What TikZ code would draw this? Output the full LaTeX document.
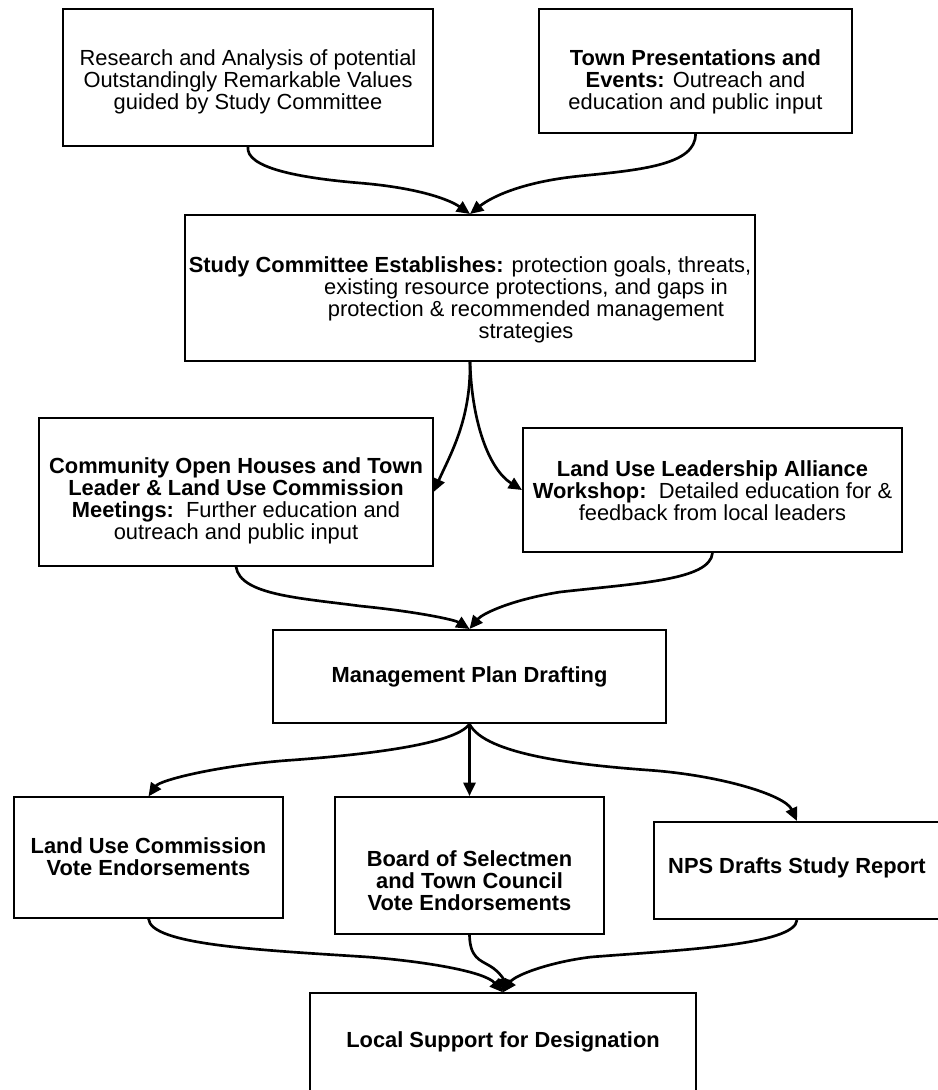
\documentclass[tikz,border=0pt]{standalone}
\usepackage{fontspec}
\setmainfont{Liberation Sans}
\usetikzlibrary{arrows.meta}

\tikzset{
    box/.style={draw, line width=0.9pt, inner sep=0pt},
    heavybox/.style={box, line width=1.5pt},
    txt/.style={align=center, inner sep=0pt, font=\fontsize{16.4}{16.6}\selectfont},
    flow/.style={line width=2pt, -{Triangle[length=10pt,width=9pt]}},
}

\begin{document}
\begin{tikzpicture}[x=0.75pt, y=-0.75pt]
    \useasboundingbox (0,0) rectangle (938,1090);

    % Research and town input
    \node[box, minimum width=277.5pt, minimum height=102.75pt] (rsch) at (248,77.5) {};
    \node[txt] (rsch-t) at (248,82) {Research and Analysis of potential\\Outstandingly Remarkable Values\\guided by Study Committee};
    \node[heavybox, minimum width=234.75pt, minimum height=93pt] (town) at (695.5,71) {};
    \node[txt] (town-t) at (695.5,82) {\textbf{Town Presentations and}\\\textbf{Events:} Outreach and\\education and public input};

    % Study committee
    \node[heavybox, minimum width=427.5pt, minimum height=109.5pt] (estb) at (470,288) {};
    \node[txt] (estb-t) at (470,300) {\textbf{Study Committee Establishes:} protection goals, threats,\\\hspace*{84pt}existing resource protections, and gaps in\\\hspace*{84pt}protection \& recommended management\\\hspace*{84pt}strategies};

    % Open houses and workshop
    \node[box, minimum width=295.5pt, minimum height=111pt] (comm) at (236,492) {};
    \node[txt] (comm-t) at (236,501) {\textbf{Community Open Houses and Town}\\\textbf{Leader \& Land Use Commission}\\\textbf{Meetings:}\ \ Further education and\\outreach and public input};
    \node[heavybox, minimum width=284.25pt, minimum height=93pt] (lula) at (712.5,490) {};
    \node[txt] (lula-t) at (712.5,491) {\textbf{Land Use Leadership Alliance}\\\textbf{Workshop:}\ \ Detailed education for \&\\feedback from local leaders};

    % Drafting
    \node[heavybox, minimum width=294.75pt, minimum height=69.75pt] (mgmt) at (469.5,676.5) {};
    \node[txt] (mgmt-t) at (469.5,677) {\textbf{Management Plan Drafting}};

    % Endorsements and report
    \node[box, minimum width=201.75pt, minimum height=90.75pt] (luc) at (148.5,857.5) {};
    \node[txt] (luc-t) at (148.5,856.5) {\textbf{Land Use Commission}\\\textbf{Vote Endorsements}};
    \node[heavybox, minimum width=201.75pt, minimum height=102.75pt] (bos) at (469.5,865.5) {};
    \node[txt] (bos-t) at (469.5,881) {\textbf{Board of Selectmen}\\\textbf{and Town Council}\\\textbf{Vote Endorsements}};
    \node[heavybox, minimum width=214.5pt, minimum height=72.75pt] (nps) at (797,870.5) {};
    \node[txt] (nps-t) at (797,868) {\textbf{NPS Drafts Study Report}};

    % Local support
    \node[box, minimum width=289.5pt, minimum height=87.75pt] (supp) at (503,1051.5) {};
    \node[txt] (supp-t) at (503,1042) {\textbf{Local Support for Designation}};

    % Connectors
    \draw[flow] (rsch.south) .. controls (245,168) and (300,178) .. (360,183)
        .. controls (420,188) and (450,200) .. (estb.north);
    \draw[flow] (town.south) .. controls (696,165) and (640,170) .. (580,176)
        .. controls (520,182) and (490,198) .. (estb.north);
    \draw[flow] (estb.south) .. controls (471,420) and (450,455) .. (comm.east);
    \draw[flow] (estb.south) .. controls (472,425) and (490,470) .. (lula.west);
    \draw[flow] (comm.south) .. controls (240,595) and (300,598) .. (360,606)
        .. controls (420,612) and (455,620) .. (mgmt.north);
    \draw[flow] (lula.south) .. controls (710,580) and (640,583) .. (560,592)
        .. controls (510,600) and (482,614) .. (mgmt.north);
    \draw[flow] (mgmt.south) .. controls (455,745) and (360,755) .. (293,760)
        .. controls (220,765) and (160,780) .. (luc.north);
    \draw[flow] (mgmt.south) -- (bos.north);
    \draw[flow] (mgmt.south) .. controls (485,755) and (580,765) .. (647,770)
        .. controls (720,775) and (785,795) .. (nps.north);
    \draw[flow] (luc.south) .. controls (150,945) and (260,950) .. (368,957)
        .. controls (430,962) and (485,972) .. (supp.north);
    \draw[flow] (nps.south) .. controls (795,945) and (680,950) .. (591,957)
        .. controls (550,962) and (515,975) .. (supp.north);
    \draw[flow] (bos.south) .. controls (470,958) and (480,960) .. (490,966)
        .. controls (500,972) and (504,980) .. (supp.north);
\end{tikzpicture}
\end{document}
